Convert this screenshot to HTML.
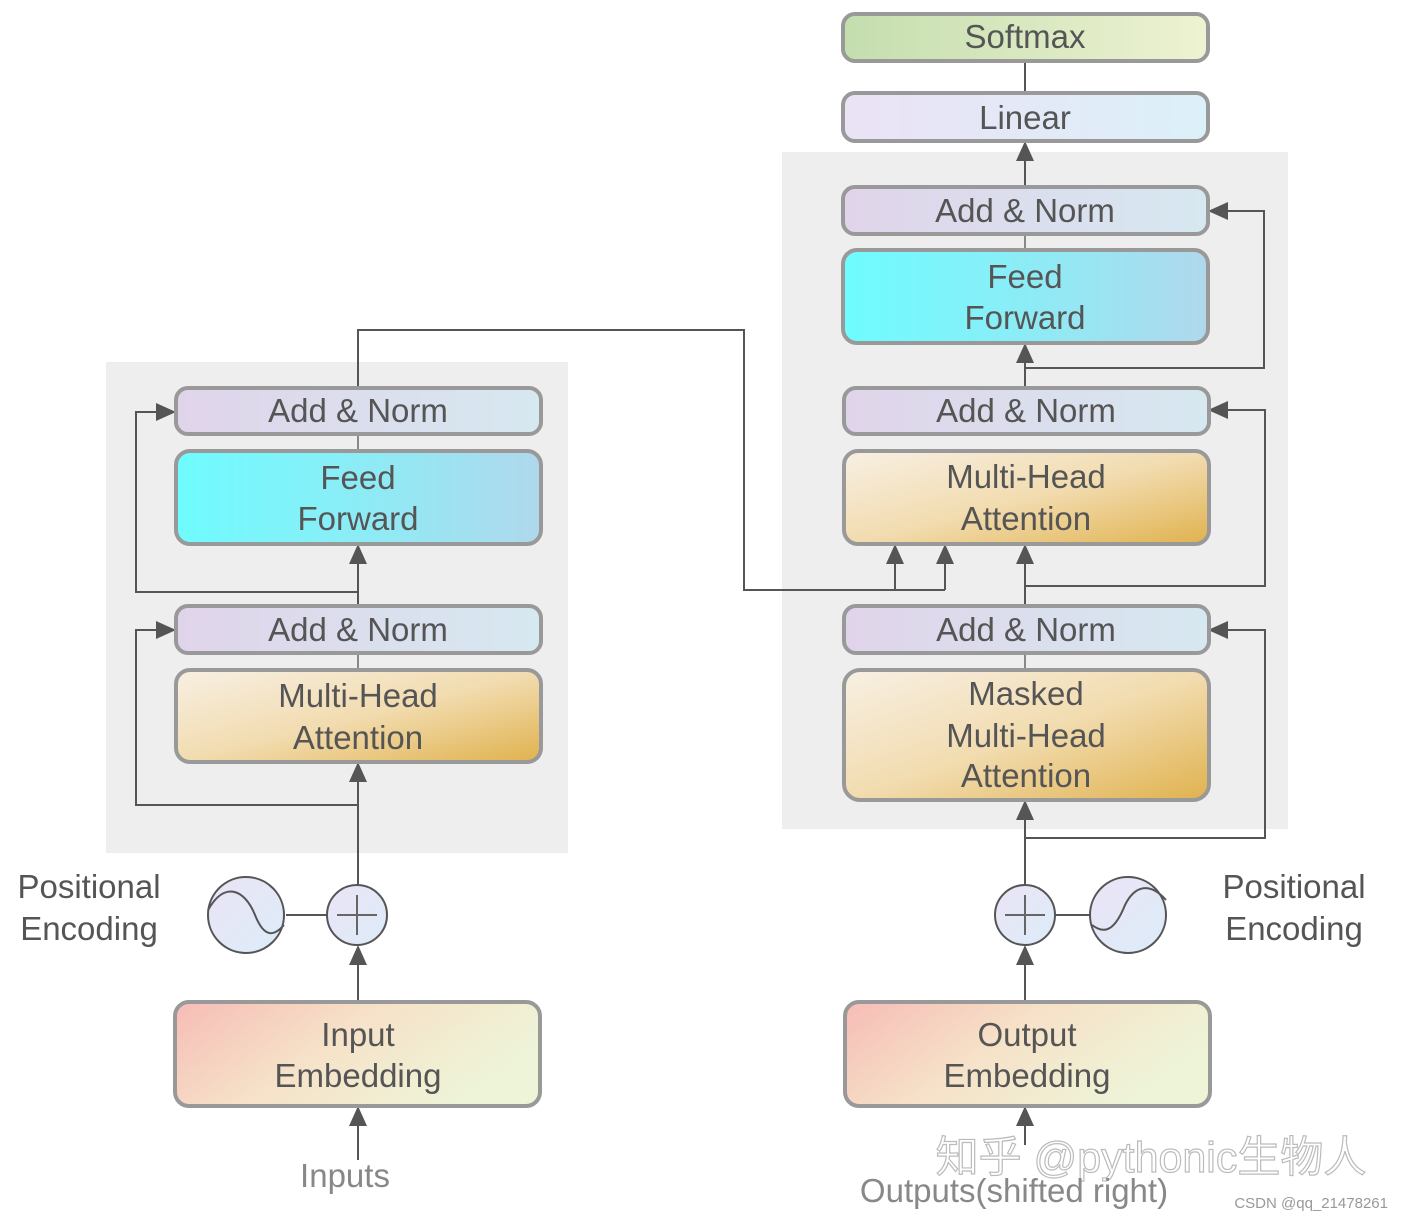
<!DOCTYPE html>
<html><head><meta charset="utf-8"><style>html,body{margin:0;padding:0;background:#fff}svg{display:block}text{font-family:"Liberation Sans","Noto Sans CJK SC",sans-serif}</style></head><body>
<svg width="1404" height="1220" viewBox="0 0 1404 1220" xmlns="http://www.w3.org/2000/svg">
<defs>
<linearGradient id="an" x1="0" x2="1"><stop offset="0" stop-color="#e0d4ea"/><stop offset="1" stop-color="#d6e8f0"/></linearGradient>
<linearGradient id="ff" x1="0" x2="1"><stop offset="0" stop-color="#6efcff"/><stop offset="0.5" stop-color="#8cecf6"/><stop offset="1" stop-color="#b0d8ec"/></linearGradient>
<linearGradient id="mh" x1="0" y1="0" x2="1" y2="1"><stop offset="0" stop-color="#f8f0e4"/><stop offset="0.5" stop-color="#f2dcb0"/><stop offset="1" stop-color="#e0b24e"/></linearGradient>
<linearGradient id="em" x1="0" y1="0" x2="1" y2="0.4"><stop offset="0" stop-color="#f6bcb6"/><stop offset="0.5" stop-color="#f6e2c8"/><stop offset="1" stop-color="#eef4d8"/></linearGradient>
<linearGradient id="sm" x1="0" x2="1"><stop offset="0" stop-color="#c4deae"/><stop offset="1" stop-color="#eef2d2"/></linearGradient>
<linearGradient id="ln" x1="0" x2="1"><stop offset="0" stop-color="#ebe2f5"/><stop offset="1" stop-color="#dcf0f9"/></linearGradient>
<linearGradient id="ci" x1="0" y1="0" x2="1" y2="1"><stop offset="0" stop-color="#ebe4f6"/><stop offset="1" stop-color="#dcecf8"/></linearGradient>
<marker id="b" markerWidth="20" markerHeight="20" refX="18" refY="10" orient="auto" markerUnits="userSpaceOnUse" viewBox="0 0 20 20"><path d="M0,1 L20,10 L0,19 z" fill="#555"/></marker>
</defs>
<rect x="106" y="362" width="462" height="491" fill="#eeeeee"/>
<rect x="782" y="152" width="506" height="677" fill="#eeeeee"/>
<g fill="none" stroke="#555" stroke-width="2">
<path d="M358,1160 L358,1108" marker-end="url(#b)"/>
<path d="M358,1002 L358,947" marker-end="url(#b)"/>
<path d="M358,885 L358,764" marker-end="url(#b)"/>
<path d="M358,805 L136,805 L136,630 L174,630" marker-end="url(#b)"/>
<path d="M358,653 L358,546" marker-end="url(#b)"/>
<path d="M358,592 L136,592 L136,412 L174,412" marker-end="url(#b)"/>
<path d="M358,434 L358,451" stroke="#888"/>
<path d="M358,653 L358,670" stroke="#888"/>
<path d="M358,388 L358,330 L744,330 L744,590 L945,590"/>
<path d="M895,590 L895,546" marker-end="url(#b)"/>
<path d="M945,590 L945,546" marker-end="url(#b)"/>
<path d="M286,915 L327,915"/>
<path d="M1025,1145 L1025,1108" marker-end="url(#b)"/>
<path d="M1025,1002 L1025,947" marker-end="url(#b)"/>
<path d="M1025,885 L1025,802" marker-end="url(#b)"/>
<path d="M1025,838 L1265,838 L1265,630 L1210,630" marker-end="url(#b)"/>
<path d="M1025,653 L1025,546" marker-end="url(#b)"/>
<path d="M1025,586 L1265,586 L1265,410 L1210,410" marker-end="url(#b)"/>
<path d="M1025,434 L1025,345" marker-end="url(#b)"/>
<path d="M1025,368 L1264,368 L1264,211 L1210,211" marker-end="url(#b)"/>
<path d="M1025,187 L1025,143" marker-end="url(#b)"/>
<path d="M1025,61 L1025,93"/>
<path d="M1025,234 L1025,250" stroke="#888"/>
<path d="M1025,653 L1025,670" stroke="#888"/>
<path d="M1055,915 L1090,915"/>
</g>
<g stroke="#999" stroke-width="4">
<rect x="176" y="388" width="365" height="46" rx="12" fill="url(#an)"/>
<rect x="176" y="451" width="365" height="93" rx="14" fill="url(#ff)"/>
<rect x="176" y="606" width="365" height="47" rx="12" fill="url(#an)"/>
<rect x="176" y="670" width="365" height="92" rx="14" fill="url(#mh)"/>
<rect x="175" y="1002" width="365" height="104" rx="14" fill="url(#em)"/>
<rect x="843" y="14" width="365" height="47" rx="12" fill="url(#sm)"/>
<rect x="843" y="93" width="365" height="48" rx="12" fill="url(#ln)"/>
<rect x="843" y="187" width="365" height="47" rx="12" fill="url(#an)"/>
<rect x="843" y="250" width="365" height="93" rx="14" fill="url(#ff)"/>
<rect x="844" y="388" width="365" height="46" rx="12" fill="url(#an)"/>
<rect x="844" y="451" width="365" height="93" rx="14" fill="url(#mh)"/>
<rect x="844" y="606" width="365" height="47" rx="12" fill="url(#an)"/>
<rect x="844" y="670" width="365" height="130" rx="16" fill="url(#mh)"/>
<rect x="845" y="1002" width="365" height="104" rx="14" fill="url(#em)"/>
</g>
<g stroke="#555" stroke-width="2">
<circle cx="246" cy="915" r="38" fill="url(#ci)"/>
<circle cx="357" cy="915" r="30" fill="url(#ci)"/>
<circle cx="1025" cy="915" r="30" fill="url(#ci)"/>
<circle cx="1128" cy="915" r="38" fill="url(#ci)"/>
<path d="M208,910 C225,880 245,890 255,915 C265,940 275,935 284,925" fill="none"/>
<path d="M1092,925 C1105,935 1115,930 1125,905 C1135,885 1150,882 1166,900" fill="none"/>
<path d="M337,915 L377,915 M357,895 L357,935 M1005,915 L1045,915 M1025,895 L1025,935" stroke="#666"/>
</g>
<g fill="#555" font-size="33" text-anchor="middle">
<text x="358" y="422">Add &amp; Norm</text>
<text x="358" y="489">Feed</text><text x="358" y="530">Forward</text>
<text x="358" y="641">Add &amp; Norm</text>
<text x="358" y="707">Multi-Head</text><text x="358" y="749">Attention</text>
<text x="358" y="1046">Input</text><text x="358" y="1087">Embedding</text>
<text x="1025" y="48">Softmax</text>
<text x="1025" y="129">Linear</text>
<text x="1025" y="222">Add &amp; Norm</text>
<text x="1025" y="288">Feed</text><text x="1025" y="329">Forward</text>
<text x="1026" y="422">Add &amp; Norm</text>
<text x="1026" y="488">Multi-Head</text><text x="1026" y="530">Attention</text>
<text x="1026" y="641">Add &amp; Norm</text>
<text x="1026" y="705">Masked</text><text x="1026" y="747">Multi-Head</text><text x="1026" y="787">Attention</text>
<text x="1027" y="1046">Output</text><text x="1027" y="1087">Embedding</text>
<text x="89" y="898">Positional</text><text x="89" y="940">Encoding</text>
<text x="1294" y="898">Positional</text><text x="1294" y="940">Encoding</text>
</g>
<text x="345" y="1187" fill="#888" font-size="33" text-anchor="middle">Inputs</text>
<text x="1151" y="1172" fill="none" stroke="#bbb" stroke-width="1.2" font-size="43" text-anchor="middle">知乎 @pythonic生物人</text>
<text x="1014" y="1202" fill="#888" font-size="33" text-anchor="middle">Outputs(shifted right)</text>
<text x="1388" y="1208" fill="#999" font-size="15" text-anchor="end">CSDN @qq_21478261</text>
</svg>
</body></html>
